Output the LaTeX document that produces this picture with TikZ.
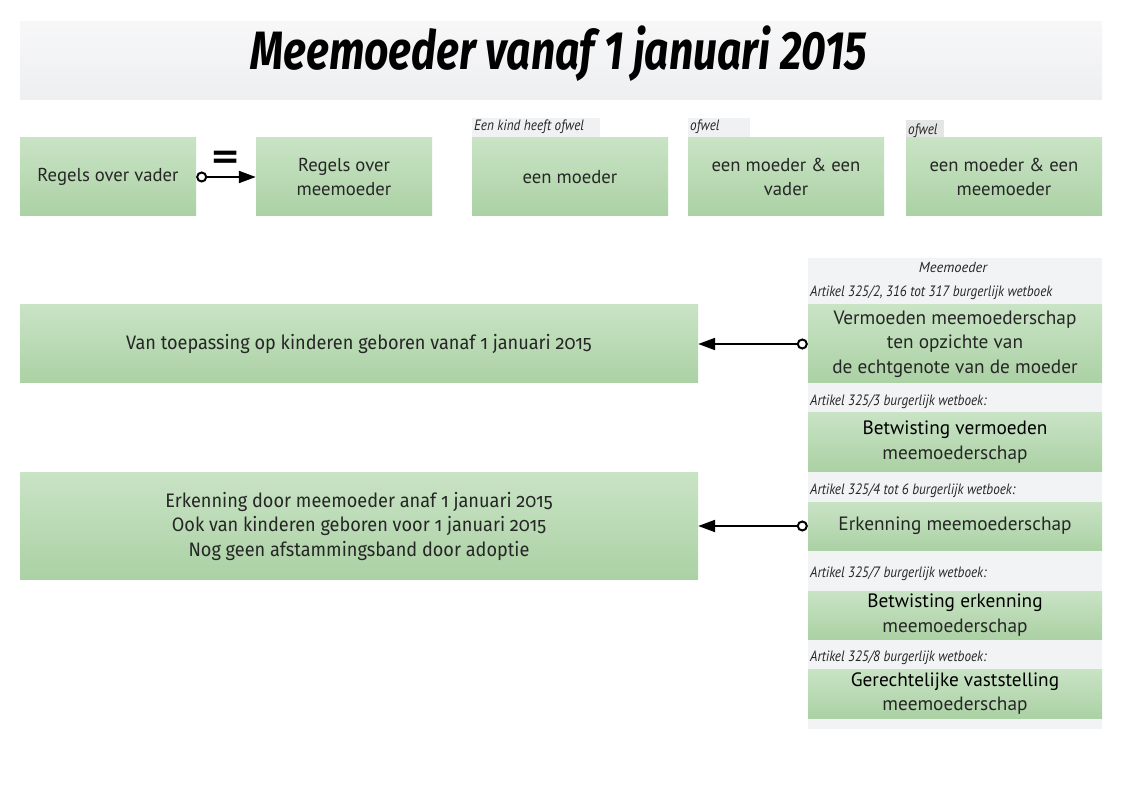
\documentclass[tikz,border=0pt]{standalone}
\usepackage{fontspec}
\setmainfont{PT Sans}
\newfontfamily\titlef[FakeStretch=0.79]{Fira Sans}
\newfontfamily\condf[FakeStretch=0.93,Numbers=OldStyle]{Fira Sans}
\newfontfamily\labf[FakeStretch=0.88]{PT Sans}
\newfontfamily\symf{DejaVu Sans}
\usetikzlibrary{arrows.meta}
\definecolor{gTop}{HTML}{C9E3C5}
\definecolor{gBot}{HTML}{ABD1A4}
\definecolor{txt}{HTML}{262626}
\definecolor{paneBg}{HTML}{F2F3F5}
\definecolor{titleTop}{HTML}{F7F7F8}
\definecolor{titleBot}{HTML}{EEEFF1}
\definecolor{tabBg}{HTML}{F0F1F3}
\definecolor{tabDark}{HTML}{E4E6E6}
\begin{document}
\begin{tikzpicture}[x=1pt,y=-1pt,
  gbox/.style={rectangle, top color=gTop, bottom color=gBot, draw=none, inner sep=0pt,
    align=center, text=txt},
  rowtxt/.style={font=\fontsize{18.7}{24}\selectfont},
  coltxt/.style={font=\fontsize{19.3}{24.5}\selectfont},
  bigtxt/.style={font=\condf\fontsize{19.5}{24.5}\selectfont},
  tab/.style={rectangle, fill=tabBg, draw=none, inner sep=0pt},
  lab/.style={anchor=base west, inner sep=0pt, text=txt, font=\labf\itshape\fontsize{15}{17}\selectfont},
  conn/.style={line width=2.2pt, black, {Circle[length=11pt, fill=white, line width=2pt]}-{Triangle[length=17pt,width=12pt]}}
]
\useasboundingbox (0,0) rectangle (1136,794);
\fill[white] (0,0) rectangle (1136,794);

% title
\node[rectangle, top color=titleTop, bottom color=titleBot, minimum width=1082pt, minimum height=78pt, inner sep=0pt] (titlebg) at (561,61) {};
\node[anchor=base, inner sep=0pt, font=\titlef\bfseries\itshape\fontsize{54}{60}\selectfont] (title) at (559,70) {Meemoeder vanaf 1 januari 2015};

% row 1 tabs
\node[tab, minimum width=128pt, minimum height=20pt] (tab1) at (536,128) {};
\node[tab, minimum width=62pt, minimum height=20pt] (tab2) at (719,128) {};
\node[tab, fill=tabDark, minimum width=38pt, minimum height=25pt] (tab3) at (925,132.5) {};

% row 1 boxes
\node[gbox, rowtxt, minimum width=176pt, minimum height=78pt] (vader) at (108,177) {Regels over vader};
\node[gbox, rowtxt, minimum width=176pt, minimum height=78pt] (rmm) at (344,177) {Regels over\\meemoeder};
\node[gbox, rowtxt, minimum width=196pt, minimum height=78pt] (moeder) at (570,177) {een moeder};
\node[gbox, rowtxt, minimum width=196pt, minimum height=78pt] (mv) at (786,177) {een moeder \& een\\vader};
\node[gbox, rowtxt, minimum width=196pt, minimum height=78pt] (mm) at (1004,177) {een moeder \& een\\meemoeder};

\node[lab] (l1) at (474,131) {Een kind heeft ofwel};
\node[lab] (l2) at (690,131) {ofwel};
\node[lab] (l3) at (908,135) {ofwel};

% equals sign and connector
\node[inner sep=0pt, font=\symf\bfseries\fontsize{36}{36}\selectfont] (eq) at (226,160) {=};
\draw[conn] (vader.east) -- (rmm.west);

% right pane
\fill[paneBg] (808,258) rectangle (1102,729);
\node[anchor=base, inner sep=0pt, text=txt, font=\itshape\fontsize{14.5}{16}\selectfont] (pane) at (953,273) {Meemoeder};

\node[lab] (a1) at (810,297) {Artikel 325/2, 316 tot 317 burgerlijk wetboek};
\node[gbox, coltxt, minimum width=294pt, minimum height=78pt] (r1) at (955,344) {Vermoeden meemoederschap\\ten opzichte van\\de echtgenote van de moeder};

\node[lab] (a2) at (810,406) {Artikel 325/3 burgerlijk wetboek:};
\node[gbox, coltxt, minimum width=294pt, minimum height=58pt] (r2) at (955,442) {\textcolor{black}{Betwisting vermoeden}\\meemoederschap};

\node[lab] (a3) at (810,494) {Artikel 325/4 tot 6 burgerlijk wetboek:};
\node[gbox, coltxt, minimum width=294pt, minimum height=48pt] (r3) at (955,526) {Erkenning meemoederschap};

\node[lab] (a4) at (810,577) {Artikel 325/7 burgerlijk wetboek:};
\node[gbox, coltxt, minimum width=294pt, minimum height=48pt] (r4) at (955,615) {\textcolor{black}{Betwisting erkenning}\\meemoederschap};

\node[lab] (a5) at (810,661) {Artikel 325/8 burgerlijk wetboek:};
\node[gbox, coltxt, minimum width=294pt, minimum height=49pt] (r5) at (955,693.5) {\textcolor{black}{Gerechtelijke vaststelling}\\meemoederschap};

% left big boxes
\node[gbox, bigtxt, minimum width=678pt, minimum height=78pt] (bigA) at (359,344) {Van toepassing op kinderen geboren vanaf 1 januari 2015};
\node[gbox, bigtxt, minimum width=678pt, minimum height=107pt] (bigB) at (359,526) {Erkenning door meemoeder anaf 1 januari 2015\\Ook van kinderen geboren voor 1 januari 2015\\Nog geen afstammingsband door adoptie};

% connectors
\draw[conn] (r1.west) -- (bigA.east);
\draw[conn] (r3.west) -- (bigB.east);
\end{tikzpicture}
\end{document}
